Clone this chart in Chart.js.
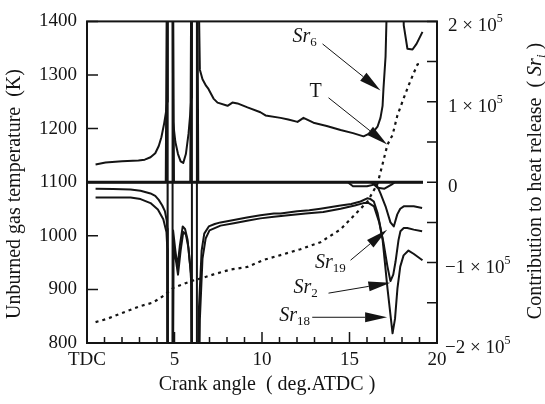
<!DOCTYPE html>
<html>
<head>
<meta charset="utf-8">
<script src="https://cdn.jsdelivr.net/npm/chart.js@4.4.1/dist/chart.umd.min.js"></script>
<style>
  html, body { margin: 0; padding: 0; background: #fff; }
</style>
</head>
<body>
<canvas id="chart" width="545" height="404"></canvas>
<script>
// unburned gas temperature (K), left axis
const tAngle = [0.49, 1.15, 2.09, 3.06, 3.73, 4.2, 4.94, 5.91, 6.66, 7.23, 8.2, 9.17, 10.09, 11.06, 12.2, 13.34, 14.49, 15.23, 16.03, 16.6, 16.89, 17.17, 17.46, 17.74, 18.09, 18.37, 18.66, 18.89, 19.17];
const tTemp = [839, 845, 857, 869, 875, 884, 903, 915, 922, 928, 937, 942, 955, 964, 975, 988, 1012, 1037, 1064, 1097, 1134, 1170, 1188, 1225, 1256, 1280, 1303, 1320, 1322];

// contributions to heat release, right axis, in units of 1e5 (+-4 = off scale)
const sr6Angle = [0.49, 1.06, 2.0, 2.94, 3.3, 3.63, 3.9, 4.1, 4.25, 4.4, 4.52, 4.58, 4.61,
  4.88, 4.92, 5.05, 5.2, 5.35, 5.5, 5.65, 5.8, 5.9, 5.96, 5.99, 6.0,
  6.27, 6.45, 6.6, 6.8, 6.94, 7.23, 7.46, 8.03, 8.31, 8.6, 9.17, 9.91, 10.2, 11.06, 11.5, 12.03, 12.37, 12.94, 13.7, 14.49, 15.2, 15.8, 16.1, 16.37, 16.6, 16.77, 16.89, 16.94, 17.06, 17.11, 17.15,
  17.95, 18.1, 18.31, 18.6, 18.83, 19.17];
const sr6 = [0.22, 0.245, 0.26, 0.27, 0.28, 0.31, 0.36, 0.45, 0.56, 0.72, 0.88, 1.0, 4,
  4, 0.75, 0.5, 0.35, 0.26, 0.24, 0.35, 0.6, 0.85, 1.05, 1.5, 4,
  4, 1.4, 1.28, 1.2, 1.16, 1.04, 0.99, 0.95, 0.99, 0.98, 0.93, 0.87, 0.83, 0.8, 0.78, 0.75, 0.8, 0.74, 0.7, 0.65, 0.61, 0.57, 0.6, 0.63, 0.69, 0.8, 0.95, 1.16, 1.56, 1.99, 4,
  4, 1.95, 1.66, 1.65, 1.72, 1.87];

const sr2Angle = [0.49, 1.5, 2.49, 3.06, 3.63, 3.9, 4.1, 4.3, 4.45, 4.55, 4.59, 4.61,
  4.88, 4.92, 5.05, 5.17, 5.3, 5.47, 5.6, 5.75, 5.85, 5.95, 6.0,
  6.25, 6.4, 6.55, 6.7, 6.96, 7.3, 7.63, 8.39, 9.14, 9.91, 10.68, 11.06, 12.01, 12.7, 13.34, 14.49, 15.1, 15.63, 16.01, 16.2, 16.39, 16.6, 16.8, 16.94, 17.17, 17.34, 17.5, 17.63, 17.8, 17.91, 18.1, 18.3, 18.67, 19.15];
const sr2 = [-0.08, -0.085, -0.09, -0.107, -0.14, -0.17, -0.22, -0.29, -0.36, -0.47, -0.58, -4,
  -4, -0.6, -0.85, -1.05, -0.8, -0.55, -0.58, -0.72, -0.95, -1.15, -4,
  -4, -1.55, -0.85, -0.64, -0.55, -0.52, -0.5, -0.47, -0.44, -0.41, -0.39, -0.39, -0.36, -0.35, -0.33, -0.29, -0.27, -0.24, -0.2, -0.21, -0.24, -0.38, -0.6, -0.75, -1.05, -1.23, -1.15, -0.99, -0.72, -0.61, -0.57, -0.57, -0.59, -0.61];

const sr18Angle = [0.49, 1.5, 2.49, 3.06, 3.63, 4.05, 4.36, 4.54, 4.59, 4.61,
  4.88, 4.95, 5.1, 5.2, 5.35, 5.5, 5.65, 5.8, 5.9, 5.97, 6.0,
  6.33, 6.45, 6.6, 6.78, 7.0, 7.63, 8.39, 9.14, 9.91, 10.68, 11.5, 12.5, 13.5, 14.49, 15.3, 15.8, 16.1, 16.4, 16.7, 16.89, 17.17, 17.46, 17.6, 17.74, 17.9, 18.09, 18.37, 18.66, 19.17];
const sr18 = [-0.19, -0.19, -0.19, -0.21, -0.26, -0.34, -0.46, -0.62, -0.83, -4,
  -4, -0.8, -1.0, -1.15, -0.85, -0.62, -0.65, -0.82, -1.05, -1.3, -4,
  -4, -1.7, -0.95, -0.7, -0.6, -0.54, -0.51, -0.48, -0.45, -0.43, -0.41, -0.39, -0.37, -0.33, -0.29, -0.26, -0.26, -0.3, -0.5, -0.71, -1.32, -1.88, -1.7, -1.32, -1.05, -0.91, -0.85, -0.89, -0.97];

const sr19Angle = [16.2, 16.55, 16.77, 17.06, 17.34, 17.53, 17.73, 17.9, 18.1, 18.67, 19.15];
const sr19 = [0, -0.03, -0.14, -0.3, -0.5, -0.55, -0.4, -0.33, -0.3, -0.3, -0.32];

// remaining small contributions: near zero, flipping sign through the two singular points
const otherAngle = [0, 4.5, 4.6, 4.61, 4.88, 4.89, 4.97, 5.9, 5.99, 6.0, 6.27, 6.28, 6.36, 14.9, 15.2, 16.0, 16.4, 16.6, 17.0, 17.4, 17.6, 19.2];
const other = [0, 0, 4, -4, -4, 4, 0, 0, 4, -4, -4, 4, 0, 0, -0.05, -0.05, -0.03, -0.07, -0.08, -0.03, 0, 0];

const zeroAngle = [0, 19.2];
const zero = [0, 0];

const rightTicks = [2, 1, 0, -1, -2];

const serif = '"Liberation Serif", "DejaVu Serif", serif';
const ink = "#141414";

const pts = (xs, ys) => xs.map((x, i) => ({ x, y: ys[i] }));
const line = (label, xs, ys, axis, extra) =>
  Object.assign({
    label,
    data: pts(xs, ys),
    yAxisID: axis,
    borderColor: ink,
    borderWidth: 2,
    pointRadius: 0,
    tension: 0,
    fill: false,
    borderJoinStyle: "round",
  }, extra);

// labelled arrows, in data coordinates (angle, Sr / 1e5)
const notes = [
  { name: "Sr", sub: "6", at: [12.43, 1.83], from: [13.46, 1.72], to: [16.77, 1.14] },
  { name: "T", at: [13.06, 1.15], from: [13.8, 1.05], to: [17.15, 0.47] },
  { name: "Sr", sub: "19", at: [13.91, -0.98], from: [15.06, -0.97], to: [17.15, -0.59] },
  { name: "Sr", sub: "2", at: [12.49, -1.29], from: [13.8, -1.38], to: [17.34, -1.25] },
  { name: "Sr", sub: "18", at: [11.86, -1.64], from: [12.87, -1.68], to: [17.15, -1.68] },
];

// draw a run of text pieces; align 'left' or 'center'
function rich(ctx, parts, x, y, align) {
  const widths = parts.map((p) => {
    ctx.font = (p.italic ? "italic " : "") + p.size + "px " + serif;
    return ctx.measureText(p.text).width;
  });
  const total = widths.reduce((a, b) => a + b, 0);
  let cx = align === "center" ? x - total / 2 : x;
  ctx.textAlign = "left";
  ctx.textBaseline = "alphabetic";
  parts.forEach((p, i) => {
    ctx.font = (p.italic ? "italic " : "") + p.size + "px " + serif;
    ctx.fillText(p.text, cx, y + (p.shift || 0));
    cx += widths[i];
  });
}

const frame = {
  id: "frame",
  afterDraw(chart) {
    const { ctx, chartArea: a, scales } = chart;
    const xs = scales.x, yl = scales.y, yr = scales.y1;
    ctx.save();
    ctx.strokeStyle = ink;
    ctx.fillStyle = ink;

    ctx.lineWidth = 2;
    ctx.strokeRect(a.left, a.top, a.right - a.left, a.bottom - a.top);

    ctx.lineWidth = 1.5;
    ctx.beginPath();
    xs.ticks.forEach((t) => {
      const px = xs.getPixelForValue(t.value);
      const len = t.value % 5 === 0 ? 11 : 6;
      ctx.moveTo(px, a.bottom);
      ctx.lineTo(px, a.bottom - len);
    });
    yl.ticks.forEach((t) => {
      const py = yl.getPixelForValue(t.value);
      ctx.moveTo(a.left, py);
      ctx.lineTo(a.left + 11, py);
    });
    yr.ticks.forEach((t) => {
      const py = yr.getPixelForValue(t.value);
      ctx.moveTo(a.right, py);
      ctx.lineTo(a.right - 10, py);
    });
    ctx.stroke();

    // right tick labels
    rightTicks.forEach((v) => {
      const py = yr.getPixelForValue(v) + 10;
      if (v === 0) {
        rich(ctx, [{ text: "0", size: 19 }], a.right + 11, py, "left");
      } else {
        rich(ctx, [
          { text: (v < 0 ? "\u2212" : "") + Math.abs(v) + " \u00d7 10", size: 19 },
          { text: "5", size: 12, shift: -9 },
        ], a.right + (v < 0 ? 8 : 11), py, "left");
      }
    });

    // axis titles
    rich(ctx, [{ text: "Crank angle  ( deg.ATDC )", size: 20 }], 267, 390, "center");

    ctx.save();
    ctx.translate(20, 194);
    ctx.rotate(-Math.PI / 2);
    rich(ctx, [{ text: "Unburned gas temperature  (K)", size: 20 }], 0, 0, "center");
    ctx.restore();

    ctx.save();
    ctx.translate(541, 181);
    ctx.rotate(-Math.PI / 2);
    rich(ctx, [
      { text: "Contribution to heat release  ( ", size: 20 },
      { text: "Sr", size: 20, italic: true },
      { text: "i", size: 13, italic: true, shift: 4 },
      { text: " )", size: 20 },
    ], 0, 0, "center");
    ctx.restore();

    // labelled arrows
    notes.forEach((n) => {
      const lx = xs.getPixelForValue(n.at[0]);
      const ly = yr.getPixelForValue(n.at[1]);
      const parts = n.sub
        ? [{ text: n.name, size: 20, italic: true }, { text: n.sub, size: 13, shift: 4 }]
        : [{ text: n.name, size: 20 }];
      rich(ctx, parts, lx, ly + 7, "center");

      const x0 = xs.getPixelForValue(n.from[0]);
      const y0 = yr.getPixelForValue(n.from[1]);
      const x1 = xs.getPixelForValue(n.to[0]);
      const y1 = yr.getPixelForValue(n.to[1]);
      const ang = Math.atan2(y1 - y0, x1 - x0);
      const head = 22, half = 5;
      const bx = x1 - head * Math.cos(ang);
      const by = y1 - head * Math.sin(ang);
      ctx.lineWidth = 1;
      ctx.beginPath();
      ctx.moveTo(x0, y0);
      ctx.lineTo(bx, by);
      ctx.stroke();
      ctx.beginPath();
      ctx.moveTo(x1, y1);
      ctx.lineTo(bx + half * Math.sin(ang), by - half * Math.cos(ang));
      ctx.lineTo(bx - half * Math.sin(ang), by + half * Math.cos(ang));
      ctx.closePath();
      ctx.fill();
    });

    ctx.restore();
  },
};

new Chart(document.getElementById("chart"), {
  type: "line",
  data: {
    datasets: [
      line("zero", zeroAngle, zero, "y1", { borderWidth: 3 }),
      line("other", otherAngle, other, "y1", { borderWidth: 2 }),
      line("Sr6", sr6Angle, sr6, "y1"),
      line("Sr2", sr2Angle, sr2, "y1"),
      line("Sr18", sr18Angle, sr18, "y1"),
      line("Sr19", sr19Angle, sr19, "y1"),
      line("T", tAngle, tTemp, "y", { borderDash: [3, 4], borderWidth: 2.2 }),
    ],
  },
  options: {
    responsive: false,
    animation: false,
    layout: { padding: { top: 14, left: 0, right: 0, bottom: 0 } },
    plugins: {
      legend: { display: false },
      tooltip: { enabled: false },
    },
    scales: {
      x: {
        type: "linear",
        min: 0,
        max: 20,
        grid: { display: false, drawTicks: false },
        border: { display: false },
        ticks: {
          stepSize: 1,
          autoSkip: false,
          maxRotation: 0,
          padding: 6,
          color: ink,
          font: { family: serif, size: 19 },
          callback: (v) => (v % 5 ? "" : v === 0 ? "TDC" : String(v)),
        },
        afterFit: (s) => { s.height = 61; },
      },
      y: {
        position: "left",
        min: 800,
        max: 1400,
        grid: { display: false, drawTicks: false },
        border: { display: false },
        ticks: {
          stepSize: 100,
          padding: 10,
          color: ink,
          font: { family: serif, size: 19 },
          callback: (v) => String(v),
        },
        afterFit: (s) => { s.width = 87; },
      },
      y1: {
        position: "right",
        min: -2,
        max: 2,
        grid: { display: false, drawTicks: false },
        border: { display: false },
        ticks: { stepSize: 0.5, display: false },
        afterFit: (s) => { s.width = 108; },
      },
    },
  },
  plugins: [frame],
});
</script>
</body>
</html>
